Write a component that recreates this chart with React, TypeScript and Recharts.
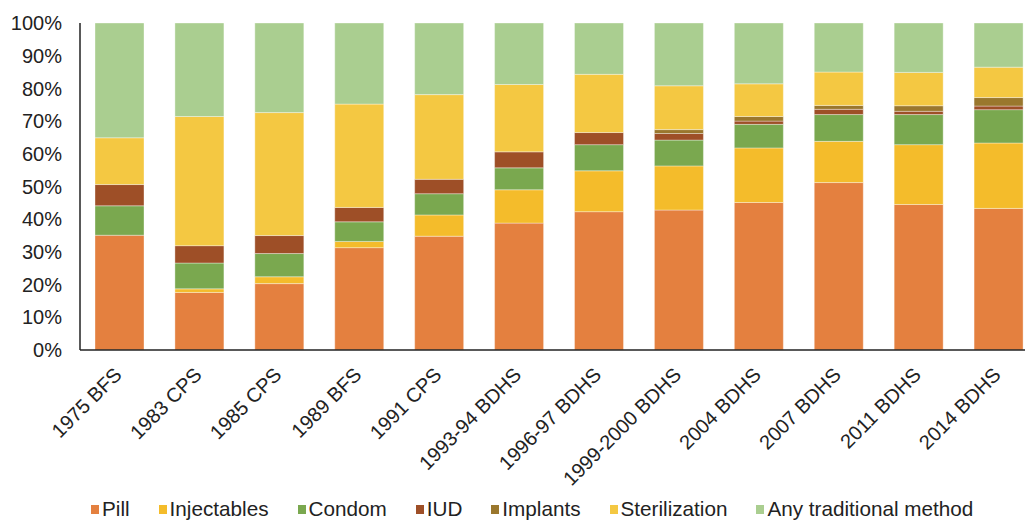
import { BarChart, Bar, XAxis, YAxis, Legend } from "recharts";

const surveys = [
  "1975 BFS",
  "1983 CPS",
  "1985 CPS",
  "1989 BFS",
  "1991 CPS",
  "1993-94 BDHS",
  "1996-97 BDHS",
  "1999-2000 BDHS",
  "2004 BDHS",
  "2007 BDHS",
  "2011 BDHS",
  "2014 BDHS",
];

const pill = [35.1, 17.6, 20.3, 31.3, 34.8, 38.8, 42.3, 42.8, 45.1, 51.2, 44.5, 43.3];
const injectables = [0, 1.1, 2.1, 1.9, 6.5, 10.2, 12.5, 13.5, 16.7, 12.6, 18.3, 20.0];
const condom = [9.0, 7.9, 7.1, 6.0, 6.5, 6.7, 8.0, 7.9, 7.2, 8.2, 9.2, 10.2];
const iud = [6.5, 5.3, 5.5, 4.4, 4.4, 4.9, 3.7, 2.0, 1.0, 1.6, 1.0, 1.1];
const implants = [0, 0, 0, 0, 0, 0, 0, 1.2, 1.4, 1.2, 1.7, 2.6];
const sterilization = [14.3, 39.5, 37.6, 31.6, 25.9, 20.6, 17.8, 13.4, 10.0, 10.2, 10.2, 9.3];
const traditional = [35.1, 28.6, 27.4, 24.8, 21.9, 18.8, 15.7, 19.2, 18.6, 15.0, 15.1, 13.5];

const yTicks = [0, 10, 20, 30, 40, 50, 60, 70, 80, 90, 100];

const series = [
  { key: "pill", name: "Pill", color: "#E4803F" },
  { key: "injectables", name: "Injectables", color: "#F4BC2B" },
  { key: "condom", name: "Condom", color: "#7AA84F" },
  { key: "iud", name: "IUD", color: "#9E4F27" },
  { key: "implants", name: "Implants", color: "#9A772D" },
  { key: "sterilization", name: "Sterilization", color: "#F4C842" },
  { key: "traditional", name: "Any traditional method", color: "#AACE90" },
];

const data = surveys.map((s, i) => ({
  survey: s,
  pill: pill[i],
  injectables: injectables[i],
  condom: condom[i],
  iud: iud[i],
  implants: implants[i],
  sterilization: sterilization[i],
  traditional: traditional[i],
}));

const FONT = "'Liberation Sans', Arial, sans-serif";
const INK = "#222222";

function SurveyTick(props: any) {
  const { x, y, payload } = props;
  const ax = x + 3;
  const ay = y + 18;
  return (
    <text
      x={ax}
      y={ay}
      transform={`rotate(-45, ${ax}, ${ay})`}
      textAnchor="end"
      fontSize={20}
      fontFamily={FONT}
      fill={INK}
    >
      {payload.value}
    </text>
  );
}

function MethodLegend() {
  return (
    <div
      style={{
        display: "flex",
        paddingTop: 19,
        paddingLeft: 91,
        fontFamily: FONT,
        fontSize: 20.7,
        lineHeight: "20px",
        color: INK,
      }}
    >
      {series.map((s) => (
        <div key={s.key} style={{ display: "flex", alignItems: "center", marginRight: 29 }}>
          <span
            style={{
              width: 8,
              height: 9,
              background: s.color,
              display: "inline-block",
              marginRight: 3,
            }}
          />
          <span>{s.name}</span>
        </div>
      ))}
    </div>
  );
}

export default function App() {
  return (
    <div
      style={{
        position: "absolute",
        left: 0,
        top: 0,
        width: 1025,
        height: 520,
        overflow: "hidden",
        background: "#fff",
      }}
    >
      <BarChart
        width={1045}
        height={520}
        data={data}
        barSize={49}
        margin={{ top: 23, right: 6, left: 0, bottom: 0 }}
      >
        <XAxis
          dataKey="survey"
          interval={0}
          height={130}
          tickLine={false}
          axisLine={{ stroke: INK, strokeWidth: 1.5 }}
          tick={<SurveyTick />}
        />
        <YAxis
          width={80}
          domain={[0, 100]}
          ticks={yTicks}
          tickFormatter={(v) => `${v}%`}
          tickLine={false}
          tickMargin={12}
          axisLine={{ stroke: INK, strokeWidth: 1.5 }}
          tick={{ fontSize: 20, fill: INK, fontFamily: FONT }}
          allowDataOverflow
        />
        <Legend
          verticalAlign="bottom"
          height={40}
          content={() => <MethodLegend />}
        />
        {series.map((s) => (
          <Bar
            key={s.key}
            dataKey={s.key}
            name={s.name}
            stackId="mix"
            fill={s.color}
            stroke="#ffffff"
            strokeOpacity={0.45}
            strokeWidth={0.8}
            isAnimationActive={false}
          />
        ))}
      </BarChart>
    </div>
  );
}
